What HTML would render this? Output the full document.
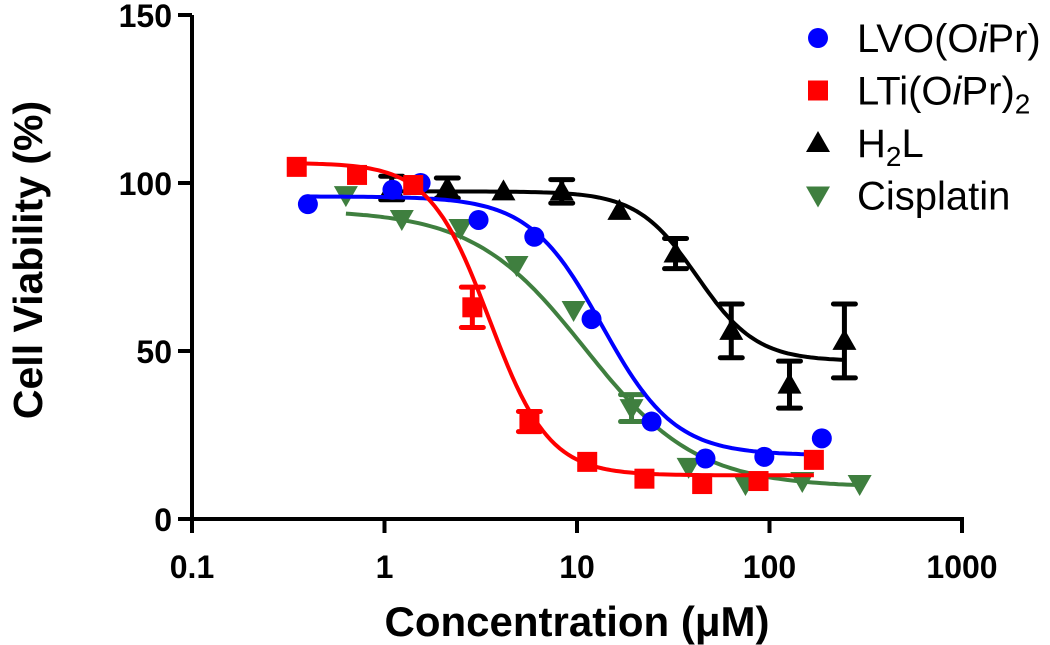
<!DOCTYPE html>
<html><head><meta charset="utf-8"><style>
body{margin:0;background:#fff;}
svg{display:block;font-family:"Liberation Sans",Arial,sans-serif;}
</style></head><body>
<svg id="chart" width="1050" height="645" viewBox="0 0 1050 645">
<g id="axes"></g>
<g id="series"></g>
<g id="legend"></g>
<text transform="translate(42,260) rotate(-90)" text-anchor="middle" font-weight="bold" font-size="41">Cell Viability (%)</text>
<text x="577" y="636" text-anchor="middle" font-weight="bold" font-size="42">Concentration (μM)</text>
</svg>
<script>
const xTicks=[0.1,1,10,100,1000];
const xTickLabels=["0.1","1","10","100","1000"];
const yTicks=[0,50,100,150];
const yTickLabels=["0","50","100","150"];
const seriesNames=["LVO(OiPr)","LTi(OiPr)2","H2L","Cisplatin"];
const seriesColors=["#0000ff","#ff0000","#000000","#3f7f3f"];
const lvoX=[0.4,1.1,1.54,3.08,6.0,11.9,24.4,46.5,94,187];
const lvoY=[93.7,98,100,89,84,59.5,29,18,18.5,24];
const ltiX=[0.35,0.72,1.41,2.86,5.66,11.3,22.4,44.7,87.7,170];
const ltiY=[104.8,102.4,99.4,63,29,17,12,10.4,11.3,17.6];
const ltiErr=[0,0,0,6,3,0,0,0,0,0];
const h2lX=[1.09,2.12,4.15,8.33,16.6,32.5,63.3,127,245];
const h2lY=[98.5,98.5,97.5,97.5,91.7,79,56,40,53];
const h2lErr=[3.5,3,0,3.5,0,4.5,8,7,11];
const cisX=[0.63,1.23,2.48,4.85,9.6,19.2,38,75,148,294];
const cisY=[96.4,89.3,86.6,75.6,62.2,33,15.5,10.4,11.3,10.4];
const cisErr=[0,0,0,0,0,4,0,0,0,0];
// 4PL fit params: top, bottom, IC50, hill
const lvoFit=[96,19,13.5,2.3];
const ltiFit=[106,13,3.5,2.8];
const h2lFit=[97.5,47,42,2.8];
const cisFit=[92,9.5,11,1.5];

const NS="http://www.w3.org/2000/svg";
const X0=192,XD=192.5,Y0=519,YS=3.36;
const sx=v=>X0+(Math.log10(v)+1)*XD;
const sy=v=>Y0-v*YS;
function mk(tag,attrs,parent){const e=document.createElementNS(NS,tag);for(const k in attrs)e.setAttribute(k,attrs[k]);parent.appendChild(e);return e;}
const axes=document.getElementById('axes');
let e;
e=mk('line',{x1:X0,y1:sy(150),x2:X0,y2:Y0+2,stroke:'#000','stroke-width':4},axes);


e=mk('line',{x1:X0-2,y1:Y0,x2:sx(1000)+2,y2:Y0,stroke:'#000','stroke-width':4},axes);


xTicks.forEach((t,i)=>{
 e=mk('line',{x1:sx(t),y1:Y0,x2:sx(t),y2:Y0+14,stroke:'#000','stroke-width':4},axes);
 
 
 e=mk('text',{x:sx(t),y:Y0+59,'text-anchor':'middle','font-weight':'bold','font-size':32},axes);
 e.textContent=xTickLabels[i];
 
 
});
yTicks.forEach((t,i)=>{
 e=mk('line',{x1:X0-14,y1:sy(t),x2:X0,y2:sy(t),stroke:'#000','stroke-width':4},axes);
 
 
 e=mk('text',{x:X0-20,y:sy(t)+12,'text-anchor':'end','font-weight':'bold','font-size':32},axes);
 e.textContent=yTickLabels[i];
 
 
});
const ser=document.getElementById('series');
function marker(kind,x,y,c,g){
 let m;
 if(kind==0)m=mk('circle',{cx:x,cy:y,r:10,fill:c},g);
 else if(kind==1)m=mk('rect',{x:x-10,y:y-10,width:20,height:20,fill:c},g);
 else if(kind==2)m=mk('polygon',{points:`${x},${y-12} ${x-12},${y+9} ${x+12},${y+9}`,fill:c},g);
 else m=mk('polygon',{points:`${x},${y+12} ${x-12},${y-9} ${x+12},${y-9}`,fill:c},g);
 return m;
}
function drawSeries(idx,xs,ys,errs,fit,name){
 const c=seriesColors[idx];
 const g=mk('g',{},ser);
 
 
 const lo=Math.log10(Math.min(...xs)),hi=Math.log10(Math.max(...xs));
 let d='';
 for(let i=0;i<=120;i++){const lx=lo+(hi-lo)*i/120,x=Math.pow(10,lx);
  const y=fit[1]+(fit[0]-fit[1])/(1+Math.pow(x/fit[2],fit[3]));
  d+=(i?'L':'M')+sx(x).toFixed(1)+','+sy(y).toFixed(1);}
 const p=mk('path',{d:d,fill:'none',stroke:c,'stroke-width':4},g);
 
 
 xs.forEach((x,i)=>{
  const er=errs?errs[i]:0;
  if(er>0){
   const eb=mk('path',{d:`M${sx(x)},${sy(ys[i]+er)}V${sy(ys[i]-er)}M${sx(x)-11},${sy(ys[i]+er)}h22M${sx(x)-11},${sy(ys[i]-er)}h22`,stroke:c,'stroke-width':5,fill:'none','stroke-linecap':'round'},g);
   
   
  }
  const m=marker(idx,sx(x),sy(ys[i]),c,g);
  
  
 });
}
drawSeries(2,h2lX,h2lY,h2lErr,h2lFit,'h2l');
drawSeries(3,cisX,cisY,cisErr,cisFit,'cisplatin');
drawSeries(0,lvoX,lvoY,null,lvoFit,'lvo');
drawSeries(1,ltiX,ltiY,ltiErr,ltiFit,'lti');
const leg=document.getElementById('legend');
const legLabels=['LVO(O<tspan font-style="italic">i</tspan>Pr)','LTi(O<tspan font-style="italic">i</tspan>Pr)<tspan font-size="28" dy="9">2</tspan>','H<tspan font-size="28" dy="9">2</tspan><tspan dy="-9">L</tspan>','Cisplatin'];
[0,1,2,3].forEach(i=>{
 const y=38+i*52.5;
 const g=mk('g',{},leg);
 
 
 marker(i,818,y,seriesColors[i],g);
 const t=mk('text',{x:857,y:y+14,'font-size':40},g);
 t.innerHTML=legLabels[i];
});
</script>
</body></html>
